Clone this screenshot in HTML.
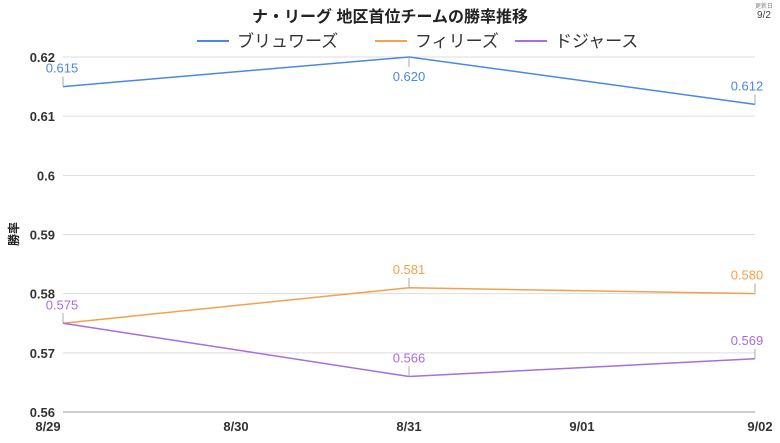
<!DOCTYPE html>
<html><head><meta charset="utf-8"><style>
body{margin:0;background:#fff;font-family:"Liberation Sans","Noto Sans CJK JP",sans-serif}
svg text{font-family:"Liberation Sans","Noto Sans CJK JP",sans-serif}
</style></head><body>
<svg id="c" width="780" height="438">
<text x="390" y="22" text-anchor="middle" font-size="16" font-weight="bold" fill="#222">ナ・リーグ 地区首位チームの勝率推移</text>
<text x="764" y="8" text-anchor="middle" font-size="6" fill="#888">更新日</text>
<text x="764" y="18" text-anchor="middle" font-size="10" fill="#444">9/2</text>
<text x="18" y="234" font-size="12" font-weight="bold" fill="#222" text-anchor="middle" transform="rotate(-90 18 234)">勝率</text>
<g id="legend"></g><g id="grid"></g><g id="lines"></g>
</svg>
<script>
const categories=["8/29","8/30","8/31","9/01","9/02"];
const brewers=[0.615,null,0.620,null,0.612];
const phillies=[0.575,null,0.581,null,0.580];
const dodgers=[0.575,null,0.566,null,0.569];
const seriesNames=["ブリュワーズ","フィリーズ","ドジャース"];
const yTicks=[0.56,0.57,0.58,0.59,0.6,0.61,0.62];
const yTickLabels=["0.56","0.57","0.58","0.59","0.6","0.61","0.62"];
const colors=["#4a86e8","#f6a04d","#a66ee0"];
const svg=document.getElementById('c'),NS="http://www.w3.org/2000/svg";
const X0=63,X1=755,Y0=412,Y1=57,ymin=0.56,ymax=0.62;
const x=i=>X0+(X1-X0)*i/(categories.length-1);
const y=v=>Y0-(v-ymin)/(ymax-ymin)*(Y0-Y1);
function mk(t,a,p){const e=document.createElementNS(NS,t);for(const k in a)e.setAttribute(k,a[k]);(p||svg).appendChild(e);return e;}
const grid=document.getElementById('grid'),lines=document.getElementById('lines'),legend=document.getElementById('legend');
yTicks.forEach((v,i)=>{
 const l=mk('line',{x1:X0,x2:X1,y1:y(v),y2:y(v),stroke:v===ymin?'#999':'#ddd','stroke-width':1},grid);
 
 
 const t=mk('text',{x:55,y:y(v)+5,'text-anchor':'end','font-size':13,'font-weight':'bold',fill:'#333'},grid);
 t.textContent=yTickLabels[i];
 
 
});
categories.forEach((c,i)=>{
 const t=mk('text',{x:i===0?x(i)-15:i===categories.length-1?x(i)+5:x(i),y:431,'text-anchor':'middle','font-size':13,'font-weight':'bold',fill:'#333'},grid);
 t.textContent=c;
 
 
});
const legX=[197,375,515];
[brewers,phillies,dodgers].forEach((s,si)=>{
 const lx=legX[si];
 const ll=mk('line',{x1:lx,x2:lx+32,y1:41,y2:41,stroke:colors[si],'stroke-width':2},legend);
 
 
 const lt=mk('text',{x:lx+40,y:47,'font-size':17,fill:'#333'},legend);
 lt.textContent=seriesNames[si];
 
 
 const pts=[];s.forEach((v,i)=>{if(v!=null)pts.push([i,v]);});
 const pl=mk('polyline',{points:pts.map(p=>x(p[0])+','+y(p[1])).join(' '),fill:'none',stroke:colors[si],'stroke-width':1.5},lines);
 
 
 pts.forEach(p=>{
  const px=x(p[0]),py=y(p[1]);
  const down=(si===0&&p[0]===2);
  const tk=mk('line',{x1:px,x2:px,y1:py,y2:down?py+10:py-10,stroke:'#aaa','stroke-width':1},lines);
  
  
  if(si===1&&p[0]===0)return;
  let tx=px;if(p[0]===0)tx=px-1;if(p[0]===categories.length-1)tx=px-8;
  const t=mk('text',{x:tx,y:down?py+24:py-14,'text-anchor':'middle','font-size':13,fill:colors[si]},lines);
  t.textContent=p[1].toFixed(3);
  
  
 });
});
</script>
</body></html>
